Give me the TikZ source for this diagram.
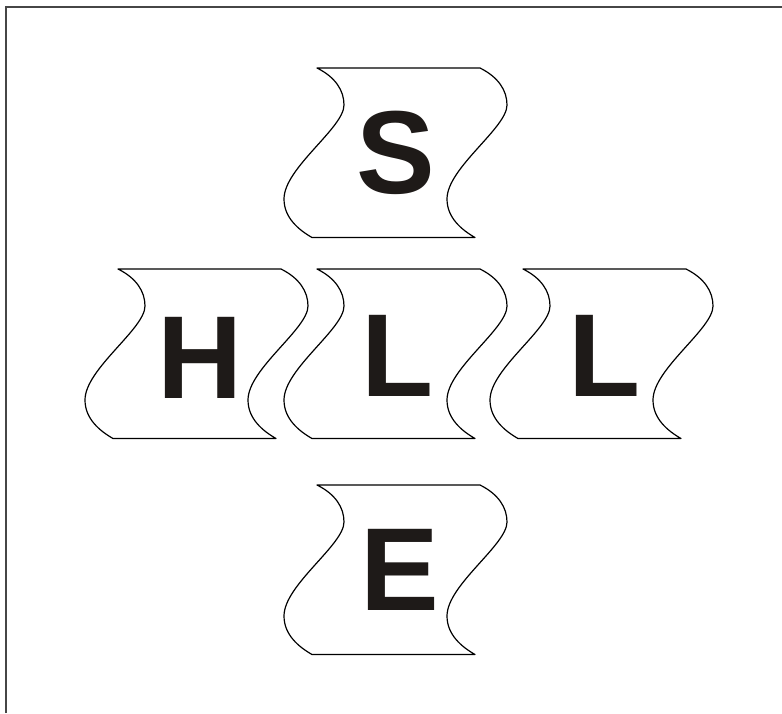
\documentclass[tikz,border=0pt]{standalone}
\usepackage{fontspec}
\setmainfont{Liberation Sans}
\definecolor{inkcol}{RGB}{30,26,24}
\definecolor{framecol}{RGB}{70,70,70}
\tikzset{
  tileline/.style={draw=black, line width=1.2pt, line join=round},
  letter/.style={inner sep=0pt, text=inkcol, font=\fontsize{118}{120}\selectfont\bfseries, anchor=center},
  tile/.pic={
    \draw[tileline] (0,0) -- (163,0)
      .. controls (181,9) and (190,22) .. (190,37)
      .. controls (190,60) and (130,100) .. (130,131)
      .. controls (130,150) and (145,162) .. (158,169.5)
      -- (-5,169.5)
      .. controls (-18,162) and (-33,150) .. (-33,131)
      .. controls (-33,100) and (27,60) .. (27,37)
      .. controls (27,22) and (18,9) .. (0,0) -- cycle;
  }
}
\begin{document}
\begin{tikzpicture}[x=1pt, y=-1pt]
  \useasboundingbox (0,0) rectangle (782,713);
  \fill[white] (0,0) rectangle (782,713);
  \draw[framecol, line width=1.6pt] (6,713) -- (6,7) -- (782,7);
  % tiles
  \pic at (317,68) {tile};
  \pic at (118,269) {tile};
  \pic at (317,269) {tile};
  \pic at (523,269) {tile};
  \pic at (317,485) {tile};
  % letters
  \node[letter] (S) at (396,152.5) {S};
  \node[letter] (H) at (200.5,358) {H};
  \node[letter] (L1) at (398,356) {L};
  \node[letter] (L2) at (605,356) {L};
  \node[letter] (E) at (399.5,570) {E};
\end{tikzpicture}
\end{document}
